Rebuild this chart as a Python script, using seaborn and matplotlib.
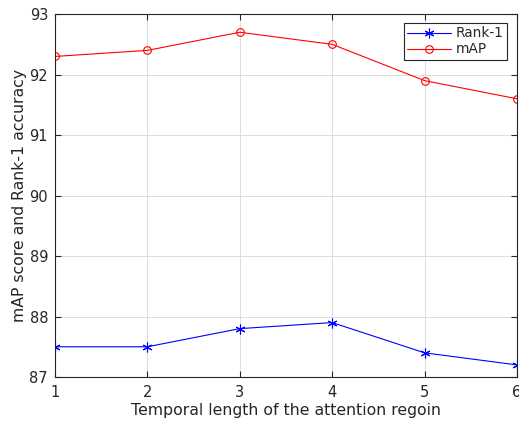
import matplotlib
matplotlib.use("Agg")
import matplotlib.pyplot as plt
import seaborn as sns
import pandas as pd

lengths = [1, 2, 3, 4, 5, 6]
rank1 = [87.5, 87.5, 87.8, 87.9, 87.4, 87.2]
map_scores = [92.3, 92.4, 92.7, 92.5, 91.9, 91.6]
series_names = ["Rank-1", "mAP"]

sns.set_theme(style="whitegrid")
plt.rcParams['font.family'] = ['DejaVu Sans']

fig = plt.figure(figsize=(5.19, 4.22), dpi=100)
ax = fig.add_axes([0.106, 0.1066, 0.89, 0.86])

df_r = pd.DataFrame({"x": lengths, "y": rank1})
df_m = pd.DataFrame({"x": lengths, "y": map_scores})

sns.lineplot(data=df_r, x="x", y="y", ax=ax, color="#0000ff", marker=(6, 2, 0),
             markersize=7, markeredgecolor="#0000ff", markeredgewidth=0.8,
             linewidth=0.8, label=series_names[0])
sns.lineplot(data=df_m, x="x", y="y", ax=ax, color="#ff0000", marker="o",
             markersize=5.5, markerfacecolor="none", markeredgecolor="#ff0000",
             markeredgewidth=0.8, linewidth=0.8, label=series_names[1])

ax.set_xlim(1, 6)
ax.set_ylim(87, 93)
ax.set_xticks(lengths)
ax.set_yticks([87, 88, 89, 90, 91, 92, 93])
ax.set_facecolor("white")
ax.grid(True, color="#dcdcdc", linewidth=0.7)
for s in ax.spines.values():
    s.set_color("#262626")
    s.set_linewidth(0.8)
ax.tick_params(direction="in", length=4, width=0.8, colors="#262626",
               labelsize=10.5, top=True, right=True, bottom=True, left=True,
               pad=6)
ax.tick_params(axis="y", pad=5)
ax.set_xlabel("Temporal length of the attention regoin", fontsize=11.3, color="#262626", labelpad=2)
ax.set_ylabel("mAP score and Rank-1 accuracy", fontsize=11.3, color="#262626", labelpad=2)

leg = ax.legend(loc="upper right", bbox_to_anchor=(0.985, 0.983), fontsize=9.8,
                frameon=True, fancybox=False, framealpha=1, edgecolor="#262626",
                handlelength=3.2, borderpad=0.25, labelspacing=0.15, handletextpad=0.4,
                borderaxespad=0.2)
leg.get_frame().set_linewidth(0.8)

fig.savefig("out.png", dpi=100)
